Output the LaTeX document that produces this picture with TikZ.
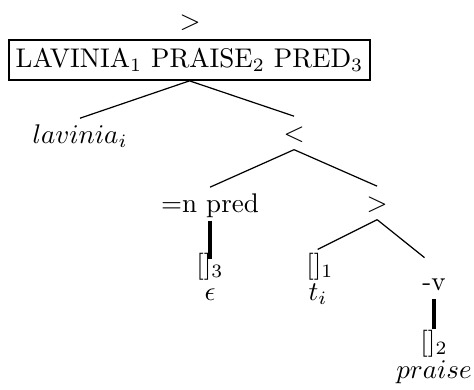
\documentclass[tikz,border=0pt]{standalone}
\begin{document}
\begin{tikzpicture}[lbl/.style={anchor=base,text height=7pt,text depth=1pt,inner xsep=1pt,inner ysep=2pt},
  leaf/.style={anchor=base,inner sep=0pt},
  tree/.style={line width=0.45pt},spine/.style={line width=1.2pt}]
\useasboundingbox (0,0) rectangle (6.17,-5.065);
% head of the tree
\node[leaf] (top) at (2.474,-0.378) {$>$};
\node[draw,line width=0.8pt,inner xsep=2.5pt,inner ysep=3pt] (root) at (2.467,-0.781) {LAVINIA$_1$ PRAISE$_2$ PRED$_3$};
\node[lbl] (lav) at (1.042,-1.862) {$lavinia_i$};
\node[lbl] (lt) at (3.828,-1.836) {$<$};
\node[lbl] (pred) at (2.734,-2.760) {=n pred};
\node[lbl] (gt) at (4.909,-2.747) {$>$};
% traces and empty slots
\node[lbl] (e3) at (2.734,-3.554) {[]$_3$};
\node[leaf] (eps) at (2.734,-3.906) {$\epsilon$};
\node[lbl] (e1) at (4.166,-3.554) {[]$_1$};
\node[leaf] (ti) at (4.140,-3.906) {$t_i$};
\node[lbl] (v) at (5.650,-3.776) {-v};
\node[lbl] (e2) at (5.650,-4.557) {[]$_2$};
\node[leaf] (praise) at (5.650,-4.922) {$praise$};
\draw[tree] (root.south) -- (lav.north);
\draw[tree] (root.south) -- (lt.north);
\draw[tree] (lt.south) -- (pred.north);
\draw[tree] (lt.south) -- (gt.north);
\draw[spine,shorten >=-4pt] (pred.south) -- (e3.north);
\draw[tree,shorten >=-1pt] (gt.south) -- (e1.north);
\draw[tree,shorten >=4.5pt] (gt.south) -- (v.north);
\draw[spine,shorten >=-1.5pt] (v.south) -- (e2.north);
\end{tikzpicture}
\end{document}
